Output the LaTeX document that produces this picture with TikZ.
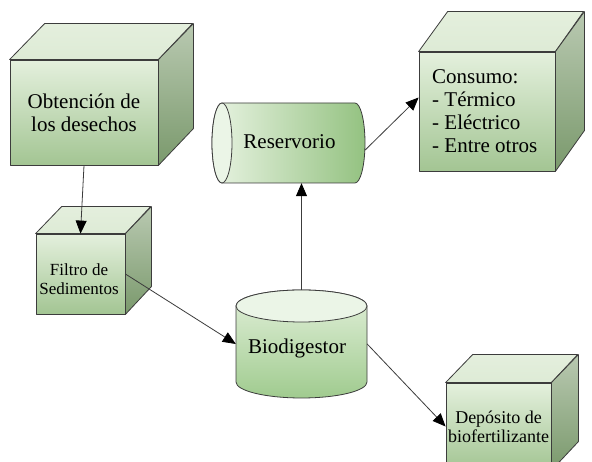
\documentclass[tikz,border=0pt]{standalone}
\usepackage{fontspec}
\setmainfont{LiberationSerif}[Extension=.ttf, UprightFont=*-Regular, BoldFont=*-Bold]
\newfontfamily\serifx{LiberationSerif}[Extension=.ttf, UprightFont=*-Regular, BoldFont=*-Bold]
\usetikzlibrary{arrows.meta,calc}
\definecolor{edgec}{HTML}{3C3C3C}
\definecolor{fronttop}{HTML}{E4F0DD}
\definecolor{frontbot}{HTML}{A3C593}
\definecolor{topface}{HTML}{E4EFDD}
\definecolor{sidetop}{HTML}{B9C9B1}
\definecolor{sidebot}{HTML}{7A996C}
\definecolor{cylleft}{HTML}{E8F3E2}
\definecolor{cylright}{HTML}{94C281}
\definecolor{cylend}{HTML}{EBF5E7}
\definecolor{biotop}{HTML}{E2F0DA}
\definecolor{biobot}{HTML}{A0CB8F}
\newcommand\cubefaces[5]{%
  \draw[facestyle, top color=topface, bottom color=topface!90!frontbot]
    (#1.north west) -- ++(#2,#3) -- ++(#4,0) -- (#1.north east) -- cycle;
  \draw[facestyle, top color=sidetop, bottom color=sidebot]
    (#1.north east) -- ++(#2,#3) -- ++(0,-#5) -- (#1.south east) -- cycle;
}
\tikzset{
  x=1pt, y=1pt,
  facestyle/.style={draw=edgec, line width=0.8pt, line join=round},
  frontface/.style={facestyle, top color=fronttop, bottom color=frontbot,
    inner sep=0pt, align=center, text=black},
  bigtext/.style={font=\serifx\fontsize{21}{23}\selectfont},
  smalltext/.style={font=\serifx\fontsize{17}{19}\selectfont},
  midtext/.style={font=\serifx\fontsize{18}{19}\selectfont},
  ghost/.style={inner sep=0pt, align=center},
  conn/.style={draw=edgec, line width=0.8pt,
    -{Triangle[length=13pt,width=11pt,fill=black,color=black]}},
}
\begin{document}
\begin{tikzpicture}
\useasboundingbox (0,0) rectangle (592,462);
\fill[white] (0,0) rectangle (592,462);

% Obtencion de los desechos
\node[frontface, bigtext, minimum width=148pt, minimum height=105pt] (obt) at (84,349.5)
  {Obtención de\\los desechos};
\cubefaces{obt}{35}{36}{148}{105}

% Consumo
\node[frontface, minimum width=136pt, minimum height=119pt] (con) at (487,350.5) {};
\node[bigtext, align=left, anchor=west, inner sep=0pt] (contxt) at (432,351)
  {Consumo:\\- Térmico\\- Eléctrico\\- Entre otros};
\cubefaces{con}{29}{40}{136}{119}

% Filtro de Sedimentos
\node[frontface, minimum width=89pt, minimum height=80pt] (filtro) at (80.5,188) {};
\node[smalltext, ghost] (filtrotxt) at (79,183) {Filtro de\\Sedimentos};
\cubefaces{filtro}{26}{27}{89}{80}

% Deposito de biofertilizante
\node[frontface, midtext, minimum width=105pt, minimum height=87pt] (dep) at (498.5,35.5)
  {Depósito de\\biofertilizante};
\cubefaces{dep}{27}{28}{105}{87}

% Reservorio (horizontal cylinder)
\draw[facestyle, left color=cylleft, right color=cylright]
  (222,359) -- (355,359) arc[start angle=90, end angle=-90, x radius=10pt, y radius=40pt]
  -- (222,279) arc[start angle=270, end angle=90, x radius=10pt, y radius=40pt] -- cycle;
\draw[facestyle, fill=cylend] (222,319) ellipse[x radius=10pt, y radius=40pt];
\node[ghost, minimum width=153pt, minimum height=80pt] (res) at (288.5,319) {};
\node[ghost, bigtext] (restxt) at (289.5,320) {Reservorio};

% Biodigestor (vertical cylinder)
\draw[facestyle, top color=biotop, bottom color=biobot]
  (236,156) -- (236,80) arc[start angle=180, end angle=360, x radius=65.5pt, y radius=16pt]
  -- (367,156) arc[start angle=0, end angle=180, x radius=65.5pt, y radius=16pt] -- cycle;
\draw[facestyle, fill=cylend] (301.5,156) ellipse[x radius=65.5pt, y radius=16pt];
\node[ghost, minimum width=131pt, minimum height=108pt] (bio) at (301.5,118) {};
\node[ghost, bigtext] (biotxt) at (297,114) {Biodigestor};

% Connectors
\draw[conn] (obt.south) -- (filtro.north);
\draw[conn] (filtro.east) -- (bio.west);
\draw[conn] (bio.north) -- (bio.north |- res.south);
\draw[conn] ([yshift=-7pt]res.east) -- ([yshift=14pt]con.west);
\draw[conn] (bio.east) -- (dep.west);
\end{tikzpicture}
\end{document}
